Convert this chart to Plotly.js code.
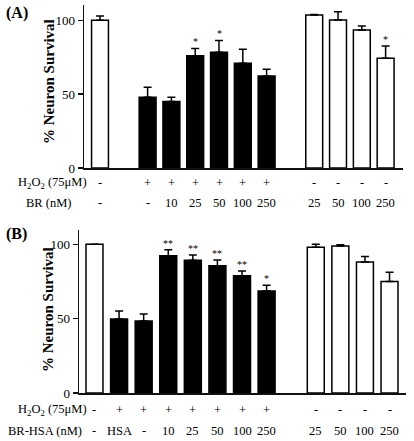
<!DOCTYPE html>
<html>
<head>
<meta charset="utf-8">
<script src="https://cdn.plot.ly/plotly-3.0.1.min.js"></script>
<style>html,body{margin:0;padding:0;background:#fff;}#chart{width:414px;height:441px;}</style>
</head>
<body>
<div id="chart"></div>
<script>
// ---- Panel A data ----
const h2o2A = ['-', '+', '+', '+', '+', '+', '+', '-', '-', '-', '-'];
const brA = ['-', '-', '10', '25', '50', '100', '250', '25', '50', '100', '250'];
const groupA = [0, 1, 1, 1, 1, 1, 1, 2, 2, 2, 2];
const survA = [100, 48, 45, 76, 78.4, 71, 62.3, 103.7, 100.3, 93.5, 74.3];
const errA = [3, 6.7, 3, 5, 8, 9.5, 4.5, 0.3, 5.6, 2.7, 8.4];
const sigA = ['', '', '', '*', '*', '', '', '', '', '', '*'];

// ---- Panel B data ----
const h2o2B = ['-', '+', '+', '+', '+', '+', '+', '+', '-', '-', '-', '-'];
const brB = ['-', 'HSA', '-', '10', '25', '50', '100', '250', '25', '50', '100', '250'];
const groupB = [0, 0, 0, 0, 0, 0, 0, 0, 1, 1, 1, 1];
const survB = [100, 49.8, 48.4, 92.3, 89.2, 85.6, 78.9, 68.6, 98.0, 98.9, 88.0, 74.9];
const errB = [0, 5.4, 4.7, 4, 3.6, 3.8, 3.1, 3.8, 2, 0.7, 3.8, 6.3];
const sigB = ['', '', '', '**', '**', '**', '**', '*', '', '', '', ''];

const yTicks = [0, 50, 100];
const yTitle = '% Neuron Survival';
const rowLabel1 = 'H<sub>2</sub>O<sub>2</sub> (75μM)';
const rowLabelA2 = 'BR (nM)';
const rowLabelB2 = 'BR-HSA (nM)';

const serif = 'Liberation Serif';
const W = 414, H = 441;
const px = v => v / W;
const py = v => 1 - v / H;

function positions(groups) { return groups.map((g, i) => i + g); }
const xA = positions(groupA);
const xB = positions(groupB);

function barTrace(x, y, err, h2o2, xa, ya, width) {
  return {
    type: 'bar', x: x, y: y, xaxis: xa, yaxis: ya, width: width,
    marker: { color: h2o2.map(s => s === '+' ? '#000' : '#fff'), line: { color: '#000', width: 1.5 } },
    error_y: { type: 'data', symmetric: false, array: err, arrayminus: err.map(() => 0),
      color: '#000', thickness: 1.5, width: 4 },
    hoverinfo: 'skip', showlegend: false
  };
}

const data = [
  barTrace(xA, survA, errA, h2o2A, 'x', 'y', 0.71),
  barTrace(xB, survB, errB, h2o2B, 'x2', 'y2', 0.69)
];

const ann = [];
function addPanel(x, surv, err, h2o2, br, sig, xref, yref, row1y, row2y) {
  x.forEach((xi, i) => {
    ann.push({ x: xi, xref: xref, y: py(row1y), yref: 'paper', text: h2o2[i], showarrow: false,
      font: { family: serif, size: 12.5, color: '#000' }, xanchor: 'center', yanchor: 'middle' });
    ann.push({ x: xi, xref: xref, y: py(row2y), yref: 'paper', text: br[i], showarrow: false,
      font: { family: serif, size: 12.5, color: '#000' }, xanchor: 'center', yanchor: 'middle' });
    if (sig[i]) {
      ann.push({ x: xi, xref: xref, y: surv[i] + err[i], yref: yref, text: sig[i], showarrow: false,
        font: { family: serif, size: 10, color: '#000' }, xanchor: 'center', yanchor: 'bottom', yshift: -1 });
    }
  });
}
addPanel(xA, survA, errA, h2o2A, brA, sigA, 'x', 'y', 183, 203);
addPanel(xB, survB, errB, h2o2B, brB, sigB, 'x2', 'y2', 410, 430.5);

const lblFont = { family: serif, size: 12.5, color: '#000' };
ann.push({ x: px(52.5), y: py(183), xref: 'paper', yref: 'paper', text: rowLabel1, showarrow: false, font: lblFont, xanchor: 'center', yanchor: 'middle' });
ann.push({ x: px(49), y: py(203), xref: 'paper', yref: 'paper', text: rowLabelA2, showarrow: false, font: lblFont, xanchor: 'center', yanchor: 'middle' });
ann.push({ x: px(52.5), y: py(410), xref: 'paper', yref: 'paper', text: rowLabel1, showarrow: false, font: lblFont, xanchor: 'center', yanchor: 'middle' });
ann.push({ x: px(45), y: py(430.5), xref: 'paper', yref: 'paper', text: rowLabelB2, showarrow: false, font: lblFont, xanchor: 'center', yanchor: 'middle' });

const titleFont = { family: serif, size: 15, color: '#000', weight: 'bold' };
ann.push({ x: px(49), y: py(82), xref: 'paper', yref: 'paper', text: '<b>' + yTitle + '</b>', textangle: -90, showarrow: false, font: titleFont, xanchor: 'center', yanchor: 'middle' });
ann.push({ x: px(48), y: py(310), xref: 'paper', yref: 'paper', text: '<b>' + yTitle + '</b>', textangle: -90, showarrow: false, font: titleFont, xanchor: 'center', yanchor: 'middle' });

const panelFont = { family: serif, size: 16, color: '#000' };
ann.push({ x: px(4), y: py(13), xref: 'paper', yref: 'paper', text: '<b>(A)</b>', showarrow: false, font: panelFont, xanchor: 'left', yanchor: 'middle' });
ann.push({ x: px(4), y: py(234), xref: 'paper', yref: 'paper', text: '<b>(B)</b>', showarrow: false, font: panelFont, xanchor: 'left', yanchor: 'middle' });

function xAxis(domain, range) {
  return { domain: domain, range: range, showline: true, linecolor: '#111', linewidth: 1.5,
    showticklabels: false, ticks: '', showgrid: false, zeroline: false, fixedrange: true };
}
function yAxis(domain, range) {
  return { domain: domain, range: range, showline: true, linecolor: '#111', linewidth: 1.5,
    tickvals: yTicks, ticks: 'outside', ticklen: 5, tickwidth: 1.5, tickcolor: '#111',
    tickfont: { family: serif, size: 13, color: '#000' }, showgrid: false, zeroline: false, fixedrange: true };
}

const layout = {
  width: W, height: H,
  margin: { l: 0, r: 0, t: 0, b: 0 },
  font: { family: serif, color: '#000' },
  paper_bgcolor: '#fff', plot_bgcolor: '#fff',
  xaxis: xAxis([px(84), px(403)], [-0.672, 12.73]),
  yaxis: yAxis([1 - 168 / H, 1 - 5 / H], [0, 110.4]),
  xaxis2: Object.assign(xAxis([px(79), px(406)], [-0.63, 12.67]), { anchor: 'y2' }),
  yaxis2: Object.assign(yAxis([1 - 393 / H, 1 - 230 / H], [0, 109.6]), { anchor: 'x2' }),
  annotations: ann,
  bargap: 0
};
layout.xaxis.anchor = 'y';
layout.yaxis.anchor = 'x';

Plotly.newPlot('chart', data, layout, { staticPlot: true, displayModeBar: false });
</script>
</body>
</html>
